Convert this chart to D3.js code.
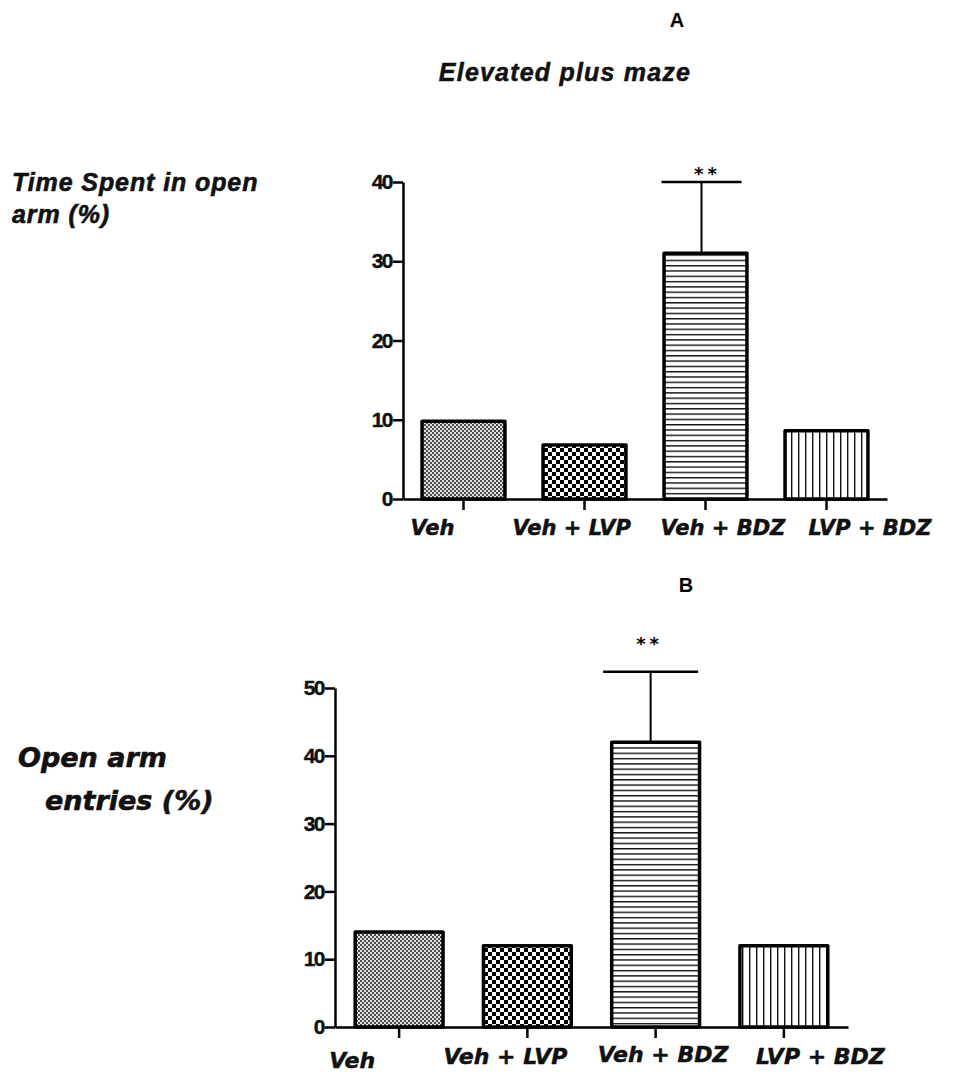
<!DOCTYPE html>
<html>
<head>
<meta charset="utf-8">
<script src="https://cdn.jsdelivr.net/npm/d3@7"></script>
<style>
  body { margin: 0; background: #fff; }
  svg { display: block; }
</style>
</head>
<body>
<svg id="fig" width="955" height="1072"></svg>
<script>
// =======================
//  Data
// =======================

var groups = ["Veh", "Veh + LVP", "Veh + BDZ", "LVP + BDZ"];

// panel A - time spent in open arm (%)
var timeOpenArm = [9.8, 6.8, 31, 8.6];
var timeOpenArmErr = [0, 0, 9, 0];
var ticksA = [0, 10, 20, 30, 40];

// panel B - open arm entries (%)
var entriesOpenArm = [14, 12, 42, 12];
var entriesOpenArmErr = [0, 0, 10.4, 0];
var ticksB = [0, 10, 20, 30, 40, 50];

var sigMarks = ["", "", "**", ""];

// =======================
//  Patterns
// =======================

var svg = d3.select("#fig");
var defs = svg.append("defs");

function makePatterns() {
    // fine grey checker (Veh)
    var p0 = defs.append("pattern").attr("id", "pat0")
        .attr("patternUnits", "userSpaceOnUse").attr("width", 4).attr("height", 4);
    p0.append("rect").attr("width", 4).attr("height", 4).attr("fill", "#e4e4e4");
    p0.append("rect").attr("width", 2).attr("height", 2).attr("fill", "#4a4a4a");
    p0.append("rect").attr("x", 2).attr("y", 2).attr("width", 2).attr("height", 2).attr("fill", "#4a4a4a");

    // coarse checker (Veh + LVP)
    var p1 = defs.append("pattern").attr("id", "pat1")
        .attr("patternUnits", "userSpaceOnUse").attr("width", 8).attr("height", 8);
    p1.append("rect").attr("width", 8).attr("height", 8).attr("fill", "#fff");
    p1.append("rect").attr("x", 0).attr("y", 0).attr("width", 4).attr("height", 4).attr("fill", "#000");
    p1.append("rect").attr("x", 4).attr("y", 4).attr("width", 4).attr("height", 4).attr("fill", "#000");

    // horizontal lines (Veh + BDZ)
    var p2 = defs.append("pattern").attr("id", "pat2")
        .attr("patternUnits", "userSpaceOnUse").attr("width", 8).attr("height", 5.3);
    p2.append("rect").attr("width", 8).attr("height", 5.3).attr("fill", "#fff");
    p2.append("rect").attr("y", 0).attr("width", 8).attr("height", 1.4).attr("fill", "#111");

    // vertical lines (LVP + BDZ)
    var p3 = defs.append("pattern").attr("id", "pat3")
        .attr("patternUnits", "userSpaceOnUse").attr("width", 7).attr("height", 8);
    p3.append("rect").attr("width", 7).attr("height", 8).attr("fill", "#fff");
    p3.append("rect").attr("x", 0).attr("width", 1.4).attr("height", 8).attr("fill", "#111");
}
makePatterns();

var fills = ["url(#pat0)", "url(#pat1)", "url(#pat2)", "url(#pat3)"];

// =======================
//  Panel drawing
// =======================

function drawPanel(cfg) {
    var g = svg.append("g");

    var y = d3.scaleLinear().domain([0, d3.max(cfg.ticks)]).range([cfg.y0, cfg.y1]);
    var x = d3.scaleBand().domain(groups)
        .range([cfg.x0, cfg.x1])
        .paddingInner(0.315).paddingOuter(0.1575);

    // y axis
    var yAxis = g.append("g")
        .attr("transform", "translate(" + cfg.x0 + ",0)")
        .call(d3.axisLeft(y).tickValues(cfg.ticks).tickSize(10).tickSizeOuter(0).tickPadding(1));
    yAxis.select(".domain").attr("stroke-width", 2.5);
    yAxis.selectAll(".tick line").attr("stroke-width", 2.5);
    yAxis.selectAll(".tick text")
        .style("font-family", "'Liberation Sans', Arial, sans-serif")
        .style("font-weight", "bold")
        .style("font-size", "21px")
        .style("letter-spacing", "-1.5px")
        .attr("stroke", "#111").attr("stroke-width", 0.4)
        .attr("fill", "#111");

    // x axis
    var xAxis = g.append("g")
        .attr("transform", "translate(0," + cfg.y0 + ")")
        .call(d3.axisBottom(x).tickSize(11).tickSizeOuter(0).tickFormat(""));
    xAxis.select(".domain").attr("stroke-width", 2.5);
    xAxis.selectAll(".tick line").attr("stroke-width", 2.5);

    // bars
    g.selectAll("rect.bar")
        .data(cfg.values)
        .join("rect")
        .attr("class", "bar")
        .attr("x", (d, i) => x(groups[i]))
        .attr("y", d => y(d))
        .attr("width", x.bandwidth())
        .attr("height", d => y(0) - y(d))
        .attr("fill", (d, i) => fills[i])
        .attr("stroke", "#000")
        .attr("stroke-width", 3.5)
        .attr("stroke-linejoin", "round");

    // error bars (upper only)
    cfg.errors.forEach(function(e, i) {
        if (!e) return;
        var cx = x(groups[i]) + x.bandwidth() / 2 + cfg.errDx;
        g.append("line")
            .attr("x1", cx).attr("x2", cx)
            .attr("y1", y(cfg.values[i])).attr("y2", y(cfg.values[i] + e))
            .attr("stroke", "#000").attr("stroke-width", 2);
        g.append("line")
            .attr("x1", cx - cfg.capW / 2).attr("x2", cx + cfg.capW / 2)
            .attr("y1", y(cfg.values[i] + e)).attr("y2", y(cfg.values[i] + e))
            .attr("stroke", "#000").attr("stroke-width", 2.5);
        g.append("text")
            .attr("x", cx + cfg.starDx)
            .attr("y", y(cfg.values[i] + e) + cfg.starDy)
            .attr("text-anchor", "middle")
            .style("font-family", "'DejaVu Sans', sans-serif")
            .style("font-weight", "bold")
            .style("font-size", "18px")
            .style("letter-spacing", "4px")
            .text(sigMarks[i]);
    });

    // category labels
    g.selectAll("text.cat")
        .data(groups)
        .join("text")
        .attr("class", "cat")
        .attr("x", (d, i) => x(d) + x.bandwidth() / 2 + cfg.labelDx[i])
        .attr("y", (d, i) => cfg.labelY[i])
        .attr("text-anchor", "start")
        .style("font-family", "'DejaVu Sans', Verdana, sans-serif")
        .style("font-weight", "bold")
        .style("font-style", "italic")
        .style("font-size", cfg.labelSize + "px")
        .attr("stroke", "#111").attr("stroke-width", 0.5)
        .attr("fill", "#111")
        .text(d => d);

    // y title
    g.selectAll("text.ytitle")
        .data(cfg.yTitle)
        .join("text")
        .attr("class", "ytitle")
        .attr("x", (d, i) => cfg.yTitleX[i])
        .attr("y", (d, i) => cfg.yTitleY[i])
        .style("font-family", cfg.yTitleFont)
        .style("font-weight", "bold")
        .style("font-style", "italic")
        .style("font-size", cfg.yTitleSize + "px")
        .style("letter-spacing", cfg.yTitleSpacing + "px")
        .attr("stroke", "#111").attr("stroke-width", 0.6)
        .attr("fill", "#111")
        .text(d => d);

    // panel letter
    g.append("text")
        .attr("x", cfg.letterX).attr("y", cfg.letterY)
        .attr("text-anchor", "middle")
        .style("font-family", "'Liberation Sans', Arial, sans-serif")
        .style("font-weight", "bold")
        .style("font-size", "20px")
        .text(cfg.letter);
}

// title
svg.append("text")
    .attr("x", 565).attr("y", 81)
    .attr("text-anchor", "middle")
    .style("font-family", "'Liberation Sans', Arial, sans-serif")
    .style("font-weight", "bold")
    .style("font-style", "italic")
    .style("font-size", "25px")
    .style("letter-spacing", "1.2px")
    .attr("stroke", "#111").attr("stroke-width", 0.5)
    .attr("fill", "#111")
    .text("Elevated plus maze");

drawPanel({
    values: timeOpenArm, errors: timeOpenArmErr, ticks: ticksA,
    x0: 403, x1: 887, y0: 499, y1: 182,
    capW: 80, errDx: -4, starDx: 6, starDy: -2,
    labelDx: [-53, -72, -45, -18],
    labelY: [535, 535, 535, 535],
    labelSize: 21,
    yTitle: ["Time Spent in open", "arm (%)"],
    yTitleX: [12, 12], yTitleY: [191, 223],
    yTitleFont: "'Liberation Sans', Arial, sans-serif",
    yTitleSize: 25, yTitleSpacing: 0.9,
    letter: "A", letterX: 677, letterY: 27
});

drawPanel({
    values: entriesOpenArm, errors: entriesOpenArmErr, ticks: ticksB,
    x0: 335, x1: 848, y0: 1027, y1: 688,
    capW: 95, errDx: -5, starDx: -1, starDy: -22,
    labelDx: [-70, -84, -58, -28],
    labelY: [1068, 1064, 1062, 1064],
    labelSize: 22,
    yTitle: ["Open arm", "entries (%)"],
    yTitleX: [18, 45], yTitleY: [767, 810],
    yTitleFont: "'DejaVu Sans', Verdana, sans-serif",
    yTitleSize: 27, yTitleSpacing: 0,
    letter: "B", letterX: 686, letterY: 592
});
</script>
</body>
</html>
